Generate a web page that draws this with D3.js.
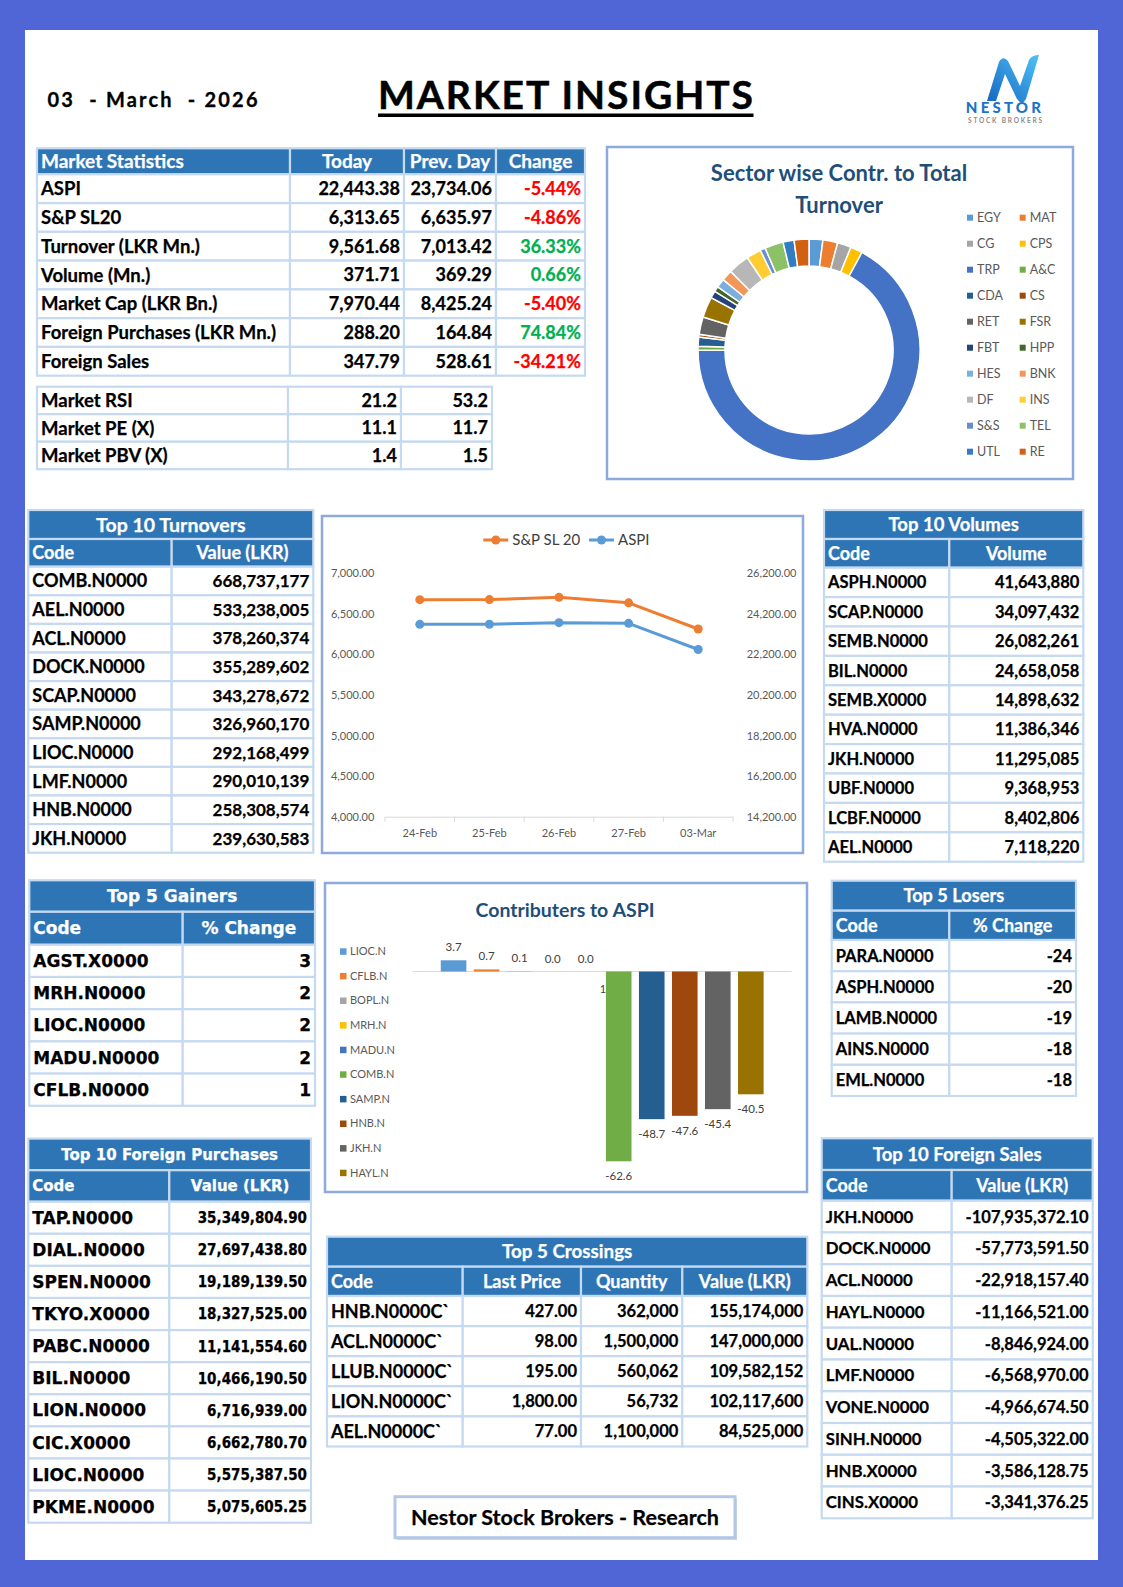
<!DOCTYPE html>
<html>
<head>
<meta charset="utf-8">
<title>Market Insights</title>
<script src="https://cdn.jsdelivr.net/npm/d3@7"></script>
<style>
  body { margin: 0; background: #5166d6; }
  svg { display: block; }
</style>
</head>
<body>
<div id="page"></div>
<script>
// ---------- data ----------
const reportDate = '03  - March  - 2026';

const statLabels = ['ASPI', 'S&P SL20', 'Turnover (LKR Mn.)', 'Volume (Mn.)', 'Market Cap (LKR Bn.)', 'Foreign Purchases (LKR Mn.)', 'Foreign Sales'];
const statToday = [22443.38, 6313.65, 9561.68, 371.71, 7970.44, 288.20, 347.79];
const statPrev = [23734.06, 6635.97, 7013.42, 369.29, 8425.24, 164.84, 528.61];
const statChange = [-5.44, -4.86, 36.33, 0.66, -5.40, 74.84, -34.21];

const ratioLabels = ['Market RSI', 'Market PE (X)', 'Market PBV (X)'];
const ratioToday = [21.2, 11.1, 1.4];
const ratioPrev = [53.2, 11.7, 1.5];

const sectorCodes = ['EGY', 'MAT', 'CG', 'CPS', 'TRP', 'A&C', 'CDA', 'CS', 'RET', 'FSR', 'FBT', 'HPP', 'HES', 'BNK', 'DF', 'INS', 'S&S', 'TEL', 'UTL', 'RE'];
const sectorShare = [2.0, 2.15, 2.0, 1.75, 66.9, 0.6, 1.3, 0.4, 2.55, 3.0, 1.05, 0.75, 1.3, 1.6, 3.1, 2.15, 0.75, 2.7, 1.6, 2.15];

const lineDates = ['24-Feb', '25-Feb', '26-Feb', '27-Feb', '03-Mar'];
const sl20Series = [6675, 6676, 6704, 6635.97, 6313.65];
const aspiSeries = [23684, 23690, 23766, 23734.06, 22443.38];
const leftTicks = [4000, 4500, 5000, 5500, 6000, 6500, 7000];
const rightTicks = [14200, 16200, 18200, 20200, 22200, 24200, 26200];

const contribCodes = ['LIOC.N', 'CFLB.N', 'BOPL.N', 'MRH.N', 'MADU.N', 'COMB.N', 'SAMP.N', 'HNB.N', 'JKH.N', 'HAYL.N'];
const contribValues = [3.7, 0.7, 0.1, 0.0, 0.0, -62.6, -48.7, -47.6, -45.4, -40.5];

const turnoverCodes = ['COMB.N0000', 'AEL.N0000', 'ACL.N0000', 'DOCK.N0000', 'SCAP.N0000', 'SAMP.N0000', 'LIOC.N0000', 'LMF.N0000', 'HNB.N0000', 'JKH.N0000'];
const turnoverValues = [668737177, 533238005, 378260374, 355289602, 343278672, 326960170, 292168499, 290010139, 258308574, 239630583];

const volumeCodes = ['ASPH.N0000', 'SCAP.N0000', 'SEMB.N0000', 'BIL.N0000', 'SEMB.X0000', 'HVA.N0000', 'JKH.N0000', 'UBF.N0000', 'LCBF.N0000', 'AEL.N0000'];
const volumeValues = [41643880, 34097432, 26082261, 24658058, 14898632, 11386346, 11295085, 9368953, 8402806, 7118220];

const gainerCodes = ['AGST.X0000', 'MRH.N0000', 'LIOC.N0000', 'MADU.N0000', 'CFLB.N0000'];
const gainerChange = [3, 2, 2, 2, 1];

const loserCodes = ['PARA.N0000', 'ASPH.N0000', 'LAMB.N0000', 'AINS.N0000', 'EML.N0000'];
const loserChange = [-24, -20, -19, -18, -18];

const fpCodes = ['TAP.N0000', 'DIAL.N0000', 'SPEN.N0000', 'TKYO.X0000', 'PABC.N0000', 'BIL.N0000', 'LION.N0000', 'CIC.X0000', 'LIOC.N0000', 'PKME.N0000'];
const fpValues = [35349804.90, 27697438.80, 19189139.50, 18327525.00, 11141554.60, 10466190.50, 6716939.00, 6662780.70, 5575387.50, 5075605.25];

const crossCodes = ['HNB.N0000C`', 'ACL.N0000C`', 'LLUB.N0000C`', 'LION.N0000C`', 'AEL.N0000C`'];
const crossPrice = [427.00, 98.00, 195.00, 1800.00, 77.00];
const crossQty = [362000, 1500000, 560062, 56732, 1100000];
const crossValue = [155174000, 147000000, 109582152, 102117600, 84525000];

const fsCodes = ['JKH.N0000', 'DOCK.N0000', 'ACL.N0000', 'HAYL.N0000', 'UAL.N0000', 'LMF.N0000', 'VONE.N0000', 'SINH.N0000', 'HNB.X0000', 'CINS.X0000'];
const fsValues = [-107935372.10, -57773591.50, -22918157.40, -11166521.00, -8846924.00, -6568970.00, -4966674.50, -4505322.00, -3586128.75, -3341376.25];

// ---------- setup ----------
d3.formatDefaultLocale({ decimal: '.', thousands: ',', grouping: [3], currency: ['', ''], minus: '-' });
const fmt2 = d3.format(',.2f');
const fmt0 = d3.format(',');
const fmt1 = d3.format('.1f');

const FONT = 'Lato, "Open Sans", sans-serif';
const DEJAVU = '"DejaVu Sans", sans-serif';
const DEJAVU_NARROW = '"DejaVu Sans Condensed", "DejaVu Sans", sans-serif';
const HEAD = '#2e75b6';
const GRID = '#c5d9f1';
const RED = '#ff0000';
const GREEN = '#00b050';
const PANEL = '#8eaadb';
const excelColors = ['#5b9bd5', '#ed7d31', '#a5a5a5', '#ffc000', '#4472c4', '#70ad47',
  '#255e91', '#9e480e', '#636363', '#997300', '#264478', '#43682b',
  '#7cafdd', '#f1975a', '#b7b7b7', '#ffcd33', '#698ed0', '#8cc168',
  '#327dc2', '#d26012'];

const W = 1123, H = 1587;
const svg = d3.select('#page').append('svg')
    .attr('width', W)
    .attr('height', H);

// page frame
svg.append('rect').attr('width', W).attr('height', H).attr('fill', '#5166d6');
svg.append('rect').attr('x', 25).attr('y', 30).attr('width', 1073).attr('height', 1530).attr('fill', '#fff');

// ---------- header ----------
svg.append('text')
    .attr('x', 47.5).attr('y', 107)
    .attr('font-family', FONT).attr('font-weight', 700).attr('font-size', 20)
    .attr('textLength', 210).attr('lengthAdjust', 'spacing')
    .attr('stroke', '#000').attr('stroke-width', 0.3)
    .style('white-space', 'pre')
    .text(reportDate);

svg.append('text')
    .attr('x', 378).attr('y', 109)
    .attr('font-family', FONT).attr('font-weight', 700).attr('font-size', 39)
    .attr('textLength', 375).attr('lengthAdjust', 'spacing')
    .attr('stroke', '#000').attr('stroke-width', 0.5)
    .text('MARKET INSIGHTS');
svg.append('rect').attr('x', 378).attr('y', 113.5).attr('width', 375.5).attr('height', 3.5).attr('fill', '#000');

// logo
const defs = svg.append('defs');
const grad = defs.append('linearGradient').attr('id', 'logoGrad')
    .attr('x1', '0%').attr('y1', '100%').attr('x2', '100%').attr('y2', '0%');
grad.append('stop').attr('offset', '0%').attr('stop-color', '#1565c0');
grad.append('stop').attr('offset', '100%').attr('stop-color', '#4fc3f7');
svg.append('path')
    .attr('d', 'M987,101 L999,62 Q1003,55 1008,61 L1020,86 L1029,60 Q1032,55 1039,55 L1026,99 Q1022,106 1017,99 L1005,74 L996,101 Z')
    .attr('fill', 'url(#logoGrad)');
svg.append('text')
    .attr('x', 1005).attr('y', 113)
    .attr('text-anchor', 'middle')
    .attr('font-family', FONT).attr('font-weight', 900).attr('font-size', 15)
    .attr('letter-spacing', 3.2).attr('fill', '#1e73c8')
    .text('NESTOR');
svg.append('text')
    .attr('x', 1006).attr('y', 122.5)
    .attr('text-anchor', 'middle')
    .attr('font-family', FONT).attr('font-weight', 700).attr('font-size', 6.5)
    .attr('letter-spacing', 1.8).attr('fill', '#8a8a8a')
    .text('STOCK BROKERS');

// ---------- tables ----------
// t.sizes gives a font size per column for the body rows, t.fonts an optional family per column
function drawTable(t) {
  const g = svg.append('g');
  const cols = t.cols;
  const x0 = cols[0], x1 = cols[cols.length - 1];
  const fam = t.font || FONT;
  let y = t.y;

  const cell = (x, yy, w, h, fill) => g.append('rect')
      .attr('x', x).attr('y', yy).attr('width', w).attr('height', h)
      .attr('fill', fill).attr('stroke', GRID).attr('stroke-width', 2.2);
  const label = (x, yy, txt, anchor, color, size, family) => g.append('text')
      .attr('x', x).attr('y', yy).attr('dy', '0.36em')
      .attr('text-anchor', anchor).attr('fill', color)
      .attr('stroke', color).attr('stroke-width', 0.25)
      .attr('font-family', family || fam).attr('font-weight', 700).attr('font-size', size)
      .text(txt);

  if (t.title) {
    cell(x0, y, x1 - x0, t.titleH, HEAD);
    label((x0 + x1) / 2, y + t.titleH / 2, t.title, 'middle', '#fff', t.titleSize);
    y += t.titleH;
  }
  if (t.headers) {
    t.headers.forEach((h, i) => {
      cell(cols[i], y, cols[i + 1] - cols[i], t.headH, HEAD);
      const left = i === 0;
      label(left ? cols[i] + 4 : (cols[i] + cols[i + 1]) / 2, y + t.headH / 2, h,
          left ? 'start' : 'middle', '#fff', t.headSize);
    });
    y += t.headH;
  }
  t.rows.forEach((row, r) => {
    const yy = y + r * t.rowH;
    row.forEach((c, i) => {
      cell(cols[i], yy, cols[i + 1] - cols[i], t.rowH, '#fff');
      const left = i === 0;
      label(left ? cols[i] + 4 : cols[i + 1] - 4, yy + t.rowH / 2, c.text,
          left ? 'start' : 'end', c.color || '#000', t.sizes[i], t.fonts && t.fonts[i]);
    });
  });
}

const pct = (v) => d3.format('.2f')(v) + '%';

drawTable({
  cols: [37, 290, 404, 496, 585], y: 148.3, headH: 26, rowH: 28.77,
  sizes: [18.5, 18, 18, 18], headSize: 19,
  headers: ['Market Statistics', 'Today', 'Prev. Day', 'Change'],
  rows: statLabels.map((l, i) => [
    { text: l }, { text: fmt2(statToday[i]) }, { text: fmt2(statPrev[i]) },
    { text: pct(statChange[i]), color: statChange[i] < 0 ? RED : GREEN }]),
});

drawTable({
  cols: [37, 288, 401, 492], y: 386.7, rowH: 27.5, sizes: [18.5, 18, 18],
  rows: ratioLabels.map((l, i) => [{ text: l }, { text: fmt1(ratioToday[i]) }, { text: fmt1(ratioPrev[i]) }]),
});

drawTable({
  cols: [28.3, 171.7, 313.3], y: 510, titleH: 29, headH: 27.7, rowH: 28.6,
  sizes: [18, 17], titleSize: 19.5, headSize: 18,
  title: 'Top 10 Turnovers', headers: ['Code', 'Value (LKR)'],
  rows: turnoverCodes.map((c, i) => [{ text: c }, { text: fmt0(turnoverValues[i]) }]),
});

drawTable({
  cols: [824, 949.3, 1083.3], y: 510, titleH: 29, headH: 28.7, rowH: 29.4,
  sizes: [16.5, 16.5], titleSize: 18.5, headSize: 18,
  title: 'Top 10 Volumes', headers: ['Code', 'Volume'],
  rows: volumeCodes.map((c, i) => [{ text: c }, { text: fmt0(volumeValues[i]) }]),
});

drawTable({
  cols: [29.3, 182.7, 315], y: 880.3, titleH: 31.5, headH: 33, rowH: 32.2,
  sizes: [17, 17], titleSize: 17, headSize: 17, font: DEJAVU,
  title: 'Top 5 Gainers', headers: ['Code', '% Change'],
  rows: gainerCodes.map((c, i) => [{ text: c }, { text: String(gainerChange[i]) }]),
});

drawTable({
  cols: [831.7, 949.3, 1076], y: 880.7, titleH: 30, headH: 29.3, rowH: 31.2,
  sizes: [16.5, 16.5], titleSize: 18.2, headSize: 18,
  title: 'Top 5 Losers', headers: ['Code', '% Change'],
  rows: loserCodes.map((c, i) => [{ text: c }, { text: String(loserChange[i]) }]),
});

drawTable({
  cols: [28.3, 169.3, 311], y: 1138.6, titleH: 31.6, headH: 31.5, rowH: 32.1,
  sizes: [17, 15], fonts: [DEJAVU, DEJAVU_NARROW], titleSize: 15, headSize: 15, font: DEJAVU,
  title: 'Top 10 Foreign Purchases', headers: ['Code', 'Value (LKR)'],
  rows: fpCodes.map((c, i) => [{ text: c }, { text: fmt2(fpValues[i]) }]),
});

drawTable({
  cols: [327, 462.7, 581, 682.3, 807.3], y: 1236.7, titleH: 30, headH: 29.3, rowH: 30.1,
  sizes: [18, 16.5, 16.5, 16.5], titleSize: 18.8, headSize: 18,
  title: 'Top 5 Crossings', headers: ['Code', 'Last Price', 'Quantity', 'Value (LKR)'],
  rows: crossCodes.map((c, i) => [{ text: c }, { text: fmt2(crossPrice[i]) },
    { text: fmt0(crossQty[i]) }, { text: fmt0(crossValue[i]) }]),
});

drawTable({
  cols: [821.7, 951.7, 1092.7], y: 1138.3, titleH: 31.7, headH: 30.7, rowH: 31.76,
  sizes: [16.8, 16.5], titleSize: 18.5, headSize: 18,
  title: 'Top 10 Foreign Sales', headers: ['Code', 'Value (LKR)'],
  rows: fsCodes.map((c, i) => [{ text: c }, { text: fmt2(fsValues[i]) }]),
});

// ---------- sector donut ----------
function panel(x, y, w, h) {
  svg.append('rect').attr('x', x).attr('y', y).attr('width', w).attr('height', h)
      .attr('fill', '#fff').attr('stroke', PANEL).attr('stroke-width', 2.5);
}

panel(607, 147, 466, 332);
['Sector wise Contr. to Total', 'Turnover'].forEach((line, i) => {
  svg.append('text')
      .attr('x', 839).attr('y', 173.3 + i * 31.7).attr('dy', '0.36em')
      .attr('text-anchor', 'middle')
      .attr('font-family', FONT).attr('font-weight', 700).attr('font-size', 22)
      .attr('fill', '#1f4e79')
      .text(line);
});

const sectors = sectorCodes.map((c, i) => ({ code: c, share: sectorShare[i], color: excelColors[i] }));
const pie = d3.pie().sort(null).value(d => d.share);
const arc = d3.arc().innerRadius(84).outerRadius(111);
svg.append('g')
    .attr('transform', 'translate(809,350)')
  .selectAll('path')
    .data(pie(sectors))
  .join('path')
    .attr('d', arc)
    .attr('fill', d => d.data.color)
    .attr('stroke', '#fff')
    .attr('stroke-width', 1.5);

const sectorLegend = svg.append('g')
  .selectAll('g')
    .data(sectors)
  .join('g')
    .attr('transform', (d, i) => `translate(${i % 2 ? 1022.7 : 970},${217.7 + Math.floor(i / 2) * 26})`);
sectorLegend.append('rect')
    .attr('x', -3).attr('y', -3).attr('width', 6).attr('height', 6)
    .attr('fill', d => d.color);
sectorLegend.append('text')
    .attr('x', 7).attr('dy', '0.36em')
    .attr('font-family', FONT).attr('font-size', 12.5).attr('fill', '#595959')
    .text(d => d.code);

// ---------- index line chart ----------
panel(322, 516, 481, 337);

const xL = d3.scaleBand().domain(lineDates).range([385, 733]);
const yL = d3.scaleLinear().domain([4000, 7000]).range([816.7, 573.3]);
const yR = d3.scaleLinear().domain([14200, 26200]).range([816.7, 573.3]);

function styleAxis(g) {
  g.select('.domain').remove();
  g.selectAll('text')
      .attr('font-family', FONT).attr('font-size', 11).attr('fill', '#595959');
}
svg.append('g')
    .attr('transform', 'translate(374.3,0)')
    .call(d3.axisLeft(yL).tickValues(leftTicks).tickFormat(fmt2).tickSize(0).tickPadding(0))
    .call(styleAxis);
svg.append('g')
    .attr('transform', 'translate(746.7,0)')
    .call(d3.axisRight(yR).tickValues(rightTicks).tickFormat(fmt2).tickSize(0).tickPadding(0))
    .call(styleAxis);

const xAxisG = svg.append('g')
    .attr('transform', 'translate(0,816.7)')
    .call(d3.axisBottom(xL).tickSize(0).tickPadding(13));
xAxisG.select('.domain').attr('stroke', '#d9d9d9');
xAxisG.selectAll('text').attr('font-family', FONT).attr('font-size', 11).attr('fill', '#595959');
xAxisG.selectAll('.cat-tick')
    .data(d3.range(lineDates.length + 1))
  .join('line')
    .attr('class', 'cat-tick')
    .attr('x1', i => xL.range()[0] + i * xL.step())
    .attr('x2', i => xL.range()[0] + i * xL.step())
    .attr('y1', 0).attr('y2', 5)
    .attr('stroke', '#d9d9d9');

const indexSeries = [
  { name: 'S&P SL 20', values: sl20Series, y: yL, color: '#ed7d31' },
  { name: 'ASPI', values: aspiSeries, y: yR, color: '#5b9bd5' },
];
const cx = (d) => xL(d) + xL.bandwidth() / 2;

indexSeries.forEach((s) => {
  const pts = d3.zip(lineDates, s.values);
  svg.append('path')
      .datum(pts)
      .attr('fill', 'none')
      .attr('stroke', s.color)
      .attr('stroke-width', 3)
      .attr('stroke-linejoin', 'round')
      .attr('d', d3.line().x(d => cx(d[0])).y(d => s.y(d[1])));
  svg.append('g')
    .selectAll('circle')
      .data(pts)
    .join('circle')
      .attr('cx', d => cx(d[0]))
      .attr('cy', d => s.y(d[1]))
      .attr('r', 4.5)
      .attr('fill', s.color);
});

// legend
const lineLegend = svg.append('g')
  .selectAll('g')
    .data(indexSeries)
  .join('g')
    .attr('transform', (d, i) => `translate(${i ? 589 : 483.3},540)`);
lineLegend.append('line').attr('x1', 0).attr('x2', 25).attr('stroke', d => d.color).attr('stroke-width', 3);
lineLegend.append('circle').attr('cx', 12.5).attr('r', 4.5).attr('fill', d => d.color);
lineLegend.append('text')
    .attr('x', 29).attr('dy', '0.35em')
    .attr('font-family', FONT).attr('font-size', 15).attr('fill', '#404040')
    .text(d => d.name);

// ---------- contributors to ASPI ----------
panel(325, 883, 482, 309);
svg.append('text')
    .attr('x', 565).attr('y', 909.7).attr('dy', '0.36em')
    .attr('text-anchor', 'middle')
    .attr('font-family', FONT).attr('font-weight', 700).attr('font-size', 19.5)
    .attr('fill', '#1f4e79')
    .text('Contributers to ASPI');

const contribs = contribCodes.map((c, i) => ({ code: c, value: contribValues[i], color: excelColors[i] }));
const xC = d3.scaleBand().domain(contribCodes).range([412.7, 791.7]).paddingInner(0.225).paddingOuter(0.85);
const yC = d3.scaleLinear().domain([-62.6, 3.7]).range([1161.3, 960.3]);

svg.append('line')
    .attr('x1', 412.7).attr('x2', 791.7)
    .attr('y1', yC(0)).attr('y2', yC(0))
    .attr('stroke', '#d9d9d9');

// clipped stray label behind the COMB bar
svg.append('text')
    .attr('x', 603).attr('y', 988.7).attr('dy', '0.35em')
    .attr('text-anchor', 'middle')
    .attr('font-family', FONT).attr('font-size', 11).attr('fill', '#404040')
    .text('1');

svg.append('g')
  .selectAll('rect')
    .data(contribs)
  .join('rect')
    .attr('x', d => xC(d.code))
    .attr('width', xC.bandwidth())
    .attr('y', d => Math.min(yC(d.value), yC(0)))
    .attr('height', d => Math.abs(yC(d.value) - yC(0)))
    .attr('fill', d => d.color);

svg.append('g')
  .selectAll('text')
    .data(contribs)
  .join('text')
    .attr('x', d => xC(d.code) + xC.bandwidth() / 2)
    .attr('y', d => (d.value < 0 ? yC(d.value) + 15 : yC(d.value) - 13))
    .attr('dy', '0.35em')
    .attr('text-anchor', 'middle')
    .attr('font-family', FONT).attr('font-size', 11.5).attr('fill', '#404040')
    .text(d => fmt1(d.value));

const contribLegend = svg.append('g')
  .selectAll('g')
    .data(contribs)
  .join('g')
    .attr('transform', (d, i) => `translate(343,${951.3 + i * 24.6})`);
contribLegend.append('rect')
    .attr('x', -3).attr('y', -3).attr('width', 6.5).attr('height', 6.5)
    .attr('fill', d => d.color);
contribLegend.append('text')
    .attr('x', 7).attr('dy', '0.36em')
    .attr('font-family', FONT).attr('font-size', 11).attr('fill', '#595959')
    .text(d => d.code);

// ---------- footer ----------
svg.append('rect')
    .attr('x', 397).attr('y', 1499).attr('width', 340).attr('height', 41)
    .attr('fill', '#d0d8e4');
svg.append('rect')
    .attr('x', 395).attr('y', 1496.7).attr('width', 340).attr('height', 41)
    .attr('fill', '#fff').attr('stroke', '#b4c7e7').attr('stroke-width', 3);
svg.append('text')
    .attr('x', 565).attr('y', 1517).attr('dy', '0.36em')
    .attr('text-anchor', 'middle')
    .attr('font-family', FONT).attr('font-weight', 700).attr('font-size', 21.5)
    .attr('stroke', '#000').attr('stroke-width', 0.25)
    .text('Nestor Stock Brokers - Research');
</script>
</body>
</html>
